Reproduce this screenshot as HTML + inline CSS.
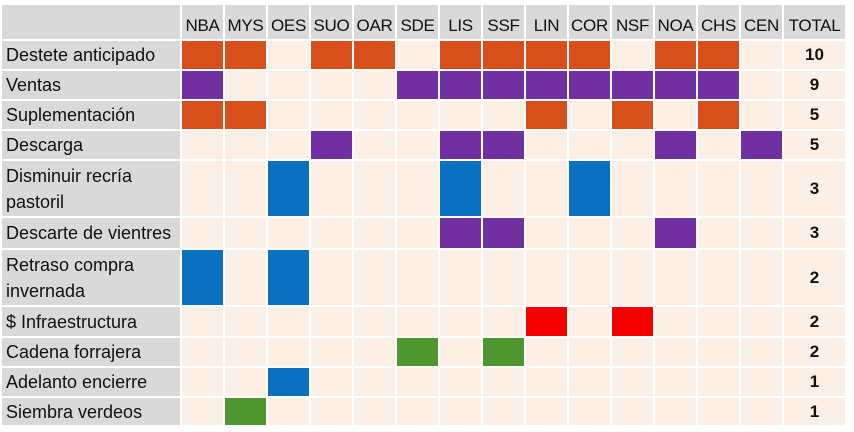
<!DOCTYPE html>
<html><head><meta charset="utf-8"><style>
body{margin:0;background:#fff;width:854px;height:432px;overflow:hidden;font-family:"Liberation Sans",sans-serif}
.g{position:absolute;left:2px;top:5px;display:grid;grid-template-columns:178px repeat(14,41px) 61px;grid-template-rows:34px 28px 28px 28px 28px 55px 30px 55px 29px 28px 28px 27px;gap:2px;background:#fff}
.g div{background:#fcefe6}
.g .h{background:#d9d9d9;font-size:17px;color:#111;display:flex;align-items:flex-end;justify-content:center;padding-bottom:3px;box-sizing:border-box;white-space:nowrap;letter-spacing:-0.3px}
.g .l{background:#d9d9d9;font-size:18px;color:#111;padding-left:4px;display:flex;align-items:center;line-height:26px;white-space:nowrap}
.g .t{font-weight:bold;font-size:17px;display:flex;align-items:center;justify-content:center;color:#111}
.g .o{background:#d7501c}.g .p{background:#7030a0}.g .b{background:#0a70c0}.g .r{background:#f40000}.g .v{background:#4f9530}
</style></head><body><div class="g">
<div class="h"></div><div class="h">NBA</div><div class="h">MYS</div><div class="h">OES</div><div class="h">SUO</div><div class="h">OAR</div><div class="h">SDE</div><div class="h">LIS</div><div class="h">SSF</div><div class="h">LIN</div><div class="h">COR</div><div class="h">NSF</div><div class="h">NOA</div><div class="h">CHS</div><div class="h">CEN</div><div class="h">TOTAL</div>
<div class="l">Destete anticipado</div><div class="o"></div><div class="o"></div><div></div><div class="o"></div><div class="o"></div><div></div><div class="o"></div><div class="o"></div><div class="o"></div><div class="o"></div><div></div><div class="o"></div><div class="o"></div><div></div><div class="t">10</div>
<div class="l">Ventas</div><div class="p"></div><div></div><div></div><div></div><div></div><div class="p"></div><div class="p"></div><div class="p"></div><div class="p"></div><div class="p"></div><div class="p"></div><div class="p"></div><div class="p"></div><div></div><div class="t">9</div>
<div class="l">Suplementación</div><div class="o"></div><div class="o"></div><div></div><div></div><div></div><div></div><div></div><div></div><div class="o"></div><div></div><div class="o"></div><div></div><div class="o"></div><div></div><div class="t">5</div>
<div class="l">Descarga</div><div></div><div></div><div></div><div class="p"></div><div></div><div></div><div class="p"></div><div class="p"></div><div></div><div></div><div></div><div class="p"></div><div></div><div class="p"></div><div class="t">5</div>
<div class="l">Disminuir recría<br>pastoril</div><div></div><div></div><div class="b"></div><div></div><div></div><div></div><div class="b"></div><div></div><div></div><div class="b"></div><div></div><div></div><div></div><div></div><div class="t">3</div>
<div class="l">Descarte de vientres</div><div></div><div></div><div></div><div></div><div></div><div></div><div class="p"></div><div class="p"></div><div></div><div></div><div></div><div class="p"></div><div></div><div></div><div class="t">3</div>
<div class="l">Retraso compra<br>invernada</div><div class="b"></div><div></div><div class="b"></div><div></div><div></div><div></div><div></div><div></div><div></div><div></div><div></div><div></div><div></div><div></div><div class="t">2</div>
<div class="l">$ Infraestructura</div><div></div><div></div><div></div><div></div><div></div><div></div><div></div><div></div><div class="r"></div><div></div><div class="r"></div><div></div><div></div><div></div><div class="t">2</div>
<div class="l">Cadena forrajera</div><div></div><div></div><div></div><div></div><div></div><div class="v"></div><div></div><div class="v"></div><div></div><div></div><div></div><div></div><div></div><div></div><div class="t">2</div>
<div class="l">Adelanto encierre</div><div></div><div></div><div class="b"></div><div></div><div></div><div></div><div></div><div></div><div></div><div></div><div></div><div></div><div></div><div></div><div class="t">1</div>
<div class="l">Siembra verdeos</div><div></div><div class="v"></div><div></div><div></div><div></div><div></div><div></div><div></div><div></div><div></div><div></div><div></div><div></div><div></div><div class="t">1</div>
</div></body></html>
